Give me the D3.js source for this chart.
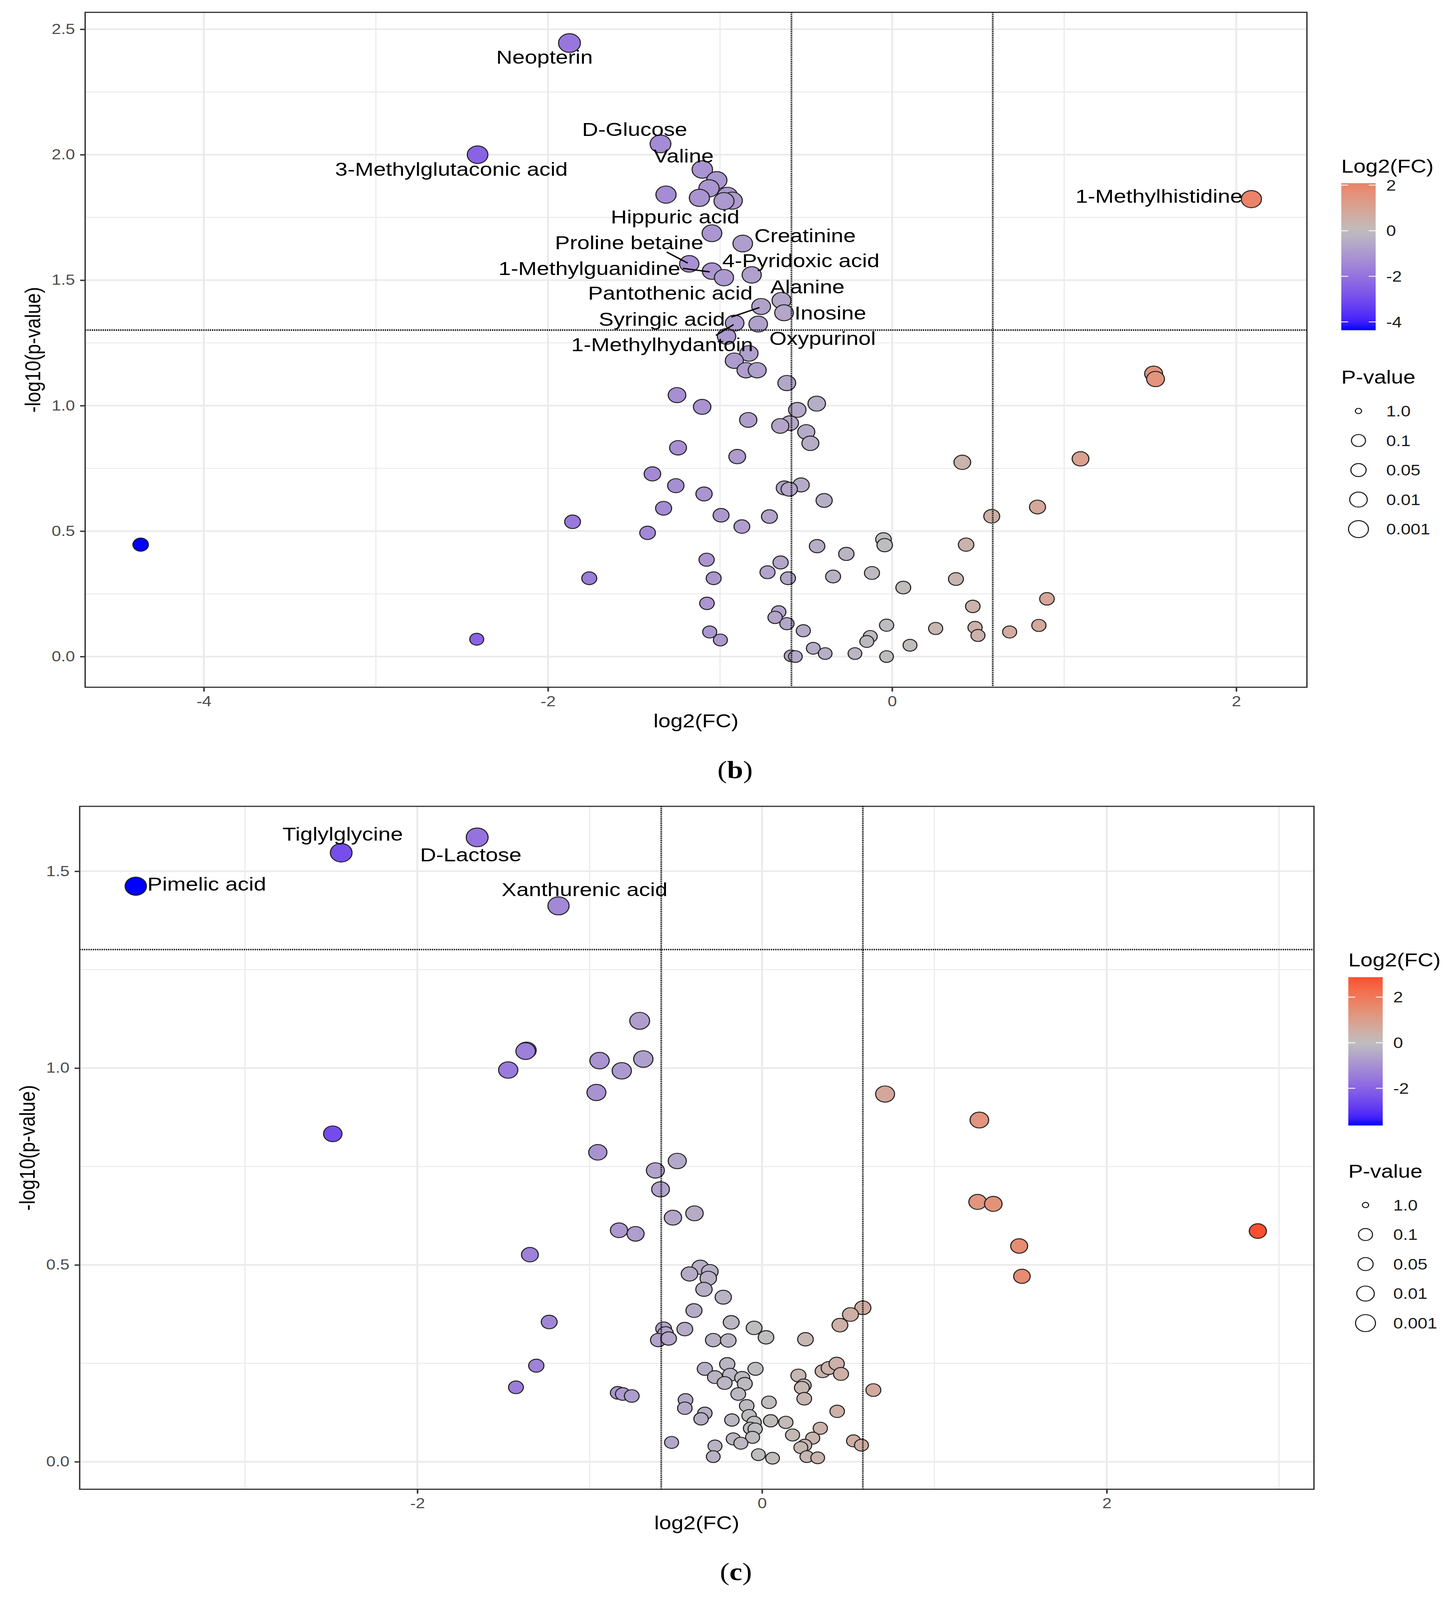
<!DOCTYPE html>
<html>
<head>
<meta charset="utf-8">
<script src="https://cdn.jsdelivr.net/npm/d3@7"></script>
<style>
  html, body { margin: 0; padding: 0; background: #fff; overflow: hidden; }
  svg { display: block; width: 100vw; height: 100vh; }
  text { font-family: "Liberation Sans", Arial, sans-serif; }
</style>
</head>
<body>
<svg id="fig" viewBox="0 0 3720 4796" preserveAspectRatio="none"></svg>
<script>
// ---- panel (b) data: log2 fold change and -log10(p) per metabolite
var fcB = [
  -1.875, -2.409, -1.346, -1.103, -1.019, -1.064, -1.314, -1.120, -0.957, -0.929,
  -0.977, 2.088, -1.047, -0.868, -1.179, -1.047, -0.977, -0.816, -0.643, -0.761,
  -0.628, -0.915, -0.778, -0.962,
  -0.832, -0.917, -0.849, -0.784, -0.612, -1.250, -0.438, -1.104, -0.551, -0.836,
  -0.594, -0.650, -0.499, -0.475, -1.244, -0.900, 0.408, 1.095, -1.393, -1.257,
  -1.093, -0.529, -0.626, -0.598, -0.395, -1.328, -0.994, -0.713, -0.873, -1.421,
  0.579, 0.845, 1.520, 1.531, -0.050, -0.043, -0.436, -0.266, 0.430, -1.078,
  -0.648, -0.724, -0.605, -1.037, -0.343, -0.117, 0.371, 0.065, 0.900, 0.469,
  -1.076, -0.659, -0.680, -0.611, -0.516, -0.032, -1.060, -0.998, 0.253, 0.482,
  0.499, 0.683, 0.853, -0.127, -0.147, 0.104, -0.458, -0.389, -0.216, -0.032,
  -0.587, -0.562, -4.367, -2.414, -1.857, -1.760
];
var logpB = [
  2.445, 2.000, 2.043, 1.941, 1.898, 1.866, 1.841, 1.828, 1.836, 1.817,
  1.815, 1.823, 1.687, 1.646, 1.565, 1.536, 1.510, 1.521, 1.419, 1.395,
  1.370, 1.329, 1.325, 1.276,
  1.208, 1.179, 1.141, 1.141, 1.090, 1.042, 1.008, 0.995, 0.983, 0.943,
  0.930, 0.919, 0.895, 0.850, 0.832, 0.797, 0.774, 0.788, 0.728, 0.681,
  0.648, 0.684, 0.672, 0.667, 0.622, 0.591, 0.563, 0.558, 0.518, 0.493,
  0.559, 0.596, 1.127, 1.106, 0.467, 0.444, 0.440, 0.409, 0.446, 0.386,
  0.375, 0.336, 0.312, 0.312, 0.319, 0.333, 0.309, 0.275, 0.230, 0.200,
  0.212, 0.178, 0.156, 0.131, 0.103, 0.125, 0.098, 0.066, 0.112, 0.116,
  0.084, 0.098, 0.124, 0.080, 0.060, 0.045, 0.033, 0.012, 0.012, 0.000,
  0.003, 0.000, 0.446, 0.069, 0.537, 0.312
];
var labelTextB = ["Neopterin", "D-Glucose", "3-Methylglutaconic acid", "Valine",
  "1-Methylhistidine", "Hippuric acid", "Creatinine", "Proline betaine",
  "4-Pyridoxic acid", "1-Methylguanidine", "Alanine", "Pantothenic acid",
  "Inosine", "Syringic acid", "Oxypurinol", "1-Methylhydantoin"];
// where the repelled labels sit, in data units (centre, baseline)
var labelFcB = [-2.020, -1.496, -2.561, -1.212, 1.551, -1.261, -0.506, -1.528,
  -0.530, -1.759, -0.492, -1.289, -0.359, -1.338, -0.404, -1.336];
var labelLogpB = [2.363, 2.075, 1.916, 1.969, 1.808, 1.726, 1.652, 1.623,
  1.551, 1.521, 1.447, 1.422, 1.343, 1.318, 1.242, 1.217];
var segmentsB = [
  [-1.310, 1.612, -1.188, 1.568],
  [-1.216, 1.547, -1.060, 1.533],
  [-0.934, 1.353, -0.771, 1.391],
  [-1.024, 1.280, -0.921, 1.323]
];

// ---- panel (c) data
var fcC = [
  -3.634, -2.442, -1.653, -1.181, -2.491, -0.710, -1.367, -1.372, -1.473, -0.943,
  -0.689, -0.814, -0.961, 0.714, -0.953, -0.492, -0.619, -0.589, -0.392, -0.517,
  -0.830, -0.734, -1.347, -1.235, -1.310, -1.428, 1.261, 1.251, 1.342, 1.492,
  1.508, 2.877,
  -0.358, -0.421, -0.303, -0.312, -0.337, -0.225, -0.395, -0.179, 0.585, 0.513,
  0.452, -0.571, -0.560, -0.448, -0.046, -0.602, -0.542, -0.283, -0.196, 0.023,
  0.252, -0.202, -0.332, -0.038, -0.273, -0.185, -0.115, -0.217, -0.100, -0.138,
  0.211, 0.242, 0.231, 0.245, 0.352, 0.387, 0.433, 0.458, 0.646, -0.837,
  -0.808, -0.756, -0.444, -0.448, -0.332, -0.354, -0.089, 0.040, 0.436, -0.175,
  -0.075, -0.046, 0.050, 0.138, -0.067, -0.040, -0.055, -0.167, -0.123, 0.177,
  0.338, 0.294, 0.248, 0.225, 0.260, 0.323, 0.531, 0.577, -0.525, -0.273,
  -0.283, -0.021, 0.061
];
var logpC = [
  1.462, 1.547, 1.586, 1.412, 0.833, 1.120, 1.045, 1.043, 0.995, 1.019,
  1.023, 0.993, 0.938, 0.934, 0.786, 0.764, 0.740, 0.692, 0.631, 0.620,
  0.588, 0.579, 0.526, 0.355, 0.244, 0.189, 0.868, 0.660, 0.655, 0.548,
  0.471, 0.586,
  0.494, 0.477, 0.483, 0.466, 0.438, 0.418, 0.384, 0.354, 0.391, 0.374,
  0.347, 0.338, 0.326, 0.337, 0.340, 0.309, 0.313, 0.309, 0.308, 0.316,
  0.311, 0.248, 0.236, 0.236, 0.215, 0.221, 0.213, 0.200, 0.198, 0.172,
  0.219, 0.194, 0.188, 0.160, 0.230, 0.238, 0.249, 0.223, 0.182, 0.175,
  0.172, 0.167, 0.157, 0.136, 0.123, 0.109, 0.142, 0.151, 0.128, 0.106,
  0.117, 0.100, 0.104, 0.100, 0.085, 0.083, 0.062, 0.058, 0.047, 0.068,
  0.085, 0.060, 0.042, 0.036, 0.013, 0.010, 0.053, 0.042, 0.049, 0.040,
  0.013, 0.018, 0.009
];
var labelTextC = ["Tiglylglycine", "D-Lactose", "Pimelic acid", "Xanthurenic acid"];
var labelFcC = [-2.433, -1.690, -3.222, -1.030];
var labelLogpC = [1.578, 1.525, 1.451, 1.437];
var segmentsC = [];

// ---- ticks and legend text
var xTicksB = [-4, -2, 0, 2];
var yTicksB = [0, 0.5, 1, 1.5, 2, 2.5];
var xTicksC = [-2, 0, 2];
var yTicksC = [0, 0.5, 1, 1.5];
var colorTicksB = [2, 0, -2, -4];
var colorTicksC = [2, 0, -2];
var pLegendLabels = ["1.0", "0.1", "0.05", "0.01", "0.001"];

var fcCut = Math.log2(1.5);
var pCut = -Math.log10(0.05);

var svg = d3.select("#fig");
svg.append("rect").attr("width", 3720).attr("height", 4796).attr("fill", "#fff");
var defs = svg.append("defs");

function minorTicks(major, domain) {
  var step = major[1] - major[0];
  var out = [];
  for (let v = major[0] - step / 2; v <= domain[1]; v += step) {
    if (v >= domain[0]) out.push(v);
  }
  return out;
}

function drawPanel(o) {
  var g = svg.append("g");
  var xExt = d3.extent(o.fc), yExt = d3.extent(o.logp);
  var xPad = (xExt[1] - xExt[0]) * 0.05, yPad = (yExt[1] - yExt[0]) * 0.05;
  var x = d3.scaleLinear().domain([xExt[0] - xPad, xExt[1] + xPad]).range([o.left, o.right]);
  var y = d3.scaleLinear().domain([yExt[0] - yPad, yExt[1] + yPad]).range([o.bottom, o.top]);

  var m = d3.max(o.fc, function(d) { return Math.abs(d); });
  var color = d3.scaleLinear()
    .domain([-m, 0, m])
    .range(["#0000FF", "#BEBEBE", "#FF0000"])
    .interpolate(d3.interpolateLab);
  var size = d3.scaleRadial().domain([0, yExt[1]]).range([17.5, 28]);

  // grid
  var grid = g.append("g");
  minorTicks(o.xTicks, x.domain()).forEach(function(v) {
    grid.append("line").attr("x1", x(v)).attr("x2", x(v)).attr("y1", o.top).attr("y2", o.bottom)
      .attr("stroke", "#EBEBEB").attr("stroke-width", 3);
  });
  minorTicks(o.yTicks, y.domain()).forEach(function(v) {
    grid.append("line").attr("y1", y(v)).attr("y2", y(v)).attr("x1", o.left).attr("x2", o.right)
      .attr("stroke", "#EBEBEB").attr("stroke-width", 3);
  });
  o.xTicks.forEach(function(v) {
    grid.append("line").attr("x1", x(v)).attr("x2", x(v)).attr("y1", o.top).attr("y2", o.bottom)
      .attr("stroke", "#EBEBEB").attr("stroke-width", 5);
  });
  o.yTicks.forEach(function(v) {
    grid.append("line").attr("y1", y(v)).attr("y2", y(v)).attr("x1", o.left).attr("x2", o.right)
      .attr("stroke", "#EBEBEB").attr("stroke-width", 5);
  });

  // points
  var pts = d3.range(o.fc.length).map(function(i) { return {fc: o.fc[i], lp: o.logp[i]}; });
  g.append("g").selectAll("circle")
    .data(pts)
    .enter().append("circle")
    .attr("cx", function(d) { return x(d.fc); })
    .attr("cy", function(d) { return y(d.lp); })
    .attr("r", function(d) { return size(d.lp); })
    .attr("fill", function(d) { return color(d.fc); })
    .attr("stroke", "#222")
    .attr("stroke-width", 2.8);

  // threshold lines
  var th = g.append("g").attr("stroke", "#111").attr("stroke-width", 4.5)
    .attr("stroke-dasharray", "3.2,2.4");
  [-fcCut, fcCut].forEach(function(v) {
    th.append("line").attr("x1", x(v)).attr("x2", x(v)).attr("y1", o.top).attr("y2", o.bottom);
  });
  th.append("line").attr("x1", o.left).attr("x2", o.right).attr("y1", y(pCut)).attr("y2", y(pCut));

  // label segments and labels
  o.segments.forEach(function(s) {
    g.append("line").attr("x1", x(s[0])).attr("y1", y(s[1]))
      .attr("x2", x(s[2])).attr("y2", y(s[3]))
      .attr("stroke", "#000").attr("stroke-width", 4);
  });
  g.append("g").selectAll("text")
    .data(o.labelText)
    .enter().append("text")
    .attr("x", function(d, i) { return x(o.labelFc[i]); })
    .attr("y", function(d, i) { return y(o.labelLogp[i]); })
    .attr("text-anchor", "middle")
    .attr("font-size", 57)
    .attr("fill", "#000")
    .text(function(d) { return d; });

  // panel border
  g.append("rect").attr("x", o.left).attr("y", o.top)
    .attr("width", o.right - o.left).attr("height", o.bottom - o.top)
    .attr("fill", "none").attr("stroke", "#333").attr("stroke-width", 3.5);

  // axes
  var xAxis = g.append("g").attr("transform", "translate(0," + o.bottom + ")")
    .call(d3.axisBottom(x).tickValues(o.xTicks).tickFormat(function(d) { return String(d); })
      .tickSize(13).tickPadding(13));
  var yAxis = g.append("g").attr("transform", "translate(" + o.left + ",0)")
    .call(d3.axisLeft(y).tickValues(o.yTicks).tickFormat(d3.format(".1f"))
      .tickSize(13).tickPadding(13));
  [xAxis, yAxis].forEach(function(a) {
    a.select(".domain").remove();
    a.selectAll(".tick line").attr("stroke", "#333").attr("stroke-width", 4);
    a.selectAll(".tick text").attr("fill", "#4D4D4D").attr("font-size", 43)
      .attr("font-family", "Liberation Sans, Arial, sans-serif");
  });

  g.append("text")
    .attr("x", (o.left + o.right) / 2).attr("y", o.bottom + 120)
    .attr("text-anchor", "middle").attr("font-size", 56).attr("fill", "#000")
    .text("log2(FC)");
  g.append("text")
    .attr("transform", "translate(" + (o.left - 115) + "," + ((o.top + o.bottom) / 2) + ") rotate(-90)")
    .attr("text-anchor", "middle").attr("font-size", 56).attr("fill", "#000")
    .text("-log10(p-value)");

  // legend: colour bar
  var lx = o.right + 88;
  g.append("text").attr("x", lx).attr("y", o.top + 480)
    .attr("font-size", 56).attr("fill", "#000").text("Log2(FC)");
  var barTop = o.top + 512, barW = 88, barH = (xExt[1] - xExt[0]) * 68.3;
  var bar = d3.scaleLinear().domain(xExt).range([barTop + barH, barTop]);
  var grad = defs.append("linearGradient").attr("id", o.id + "-grad")
    .attr("x1", 0).attr("y1", 1).attr("x2", 0).attr("y2", 0);
  d3.range(0, 1.0001, 0.05).forEach(function(t) {
    var v = xExt[0] + t * (xExt[1] - xExt[0]);
    grad.append("stop").attr("offset", t).attr("stop-color", color(v));
  });
  g.append("rect").attr("x", lx).attr("y", barTop).attr("width", barW).attr("height", barH)
    .attr("fill", "url(#" + o.id + "-grad)");
  o.colorTicks.forEach(function(v) {
    g.append("line").attr("x1", lx).attr("x2", lx + barW / 5)
      .attr("y1", bar(v)).attr("y2", bar(v)).attr("stroke", "#fff").attr("stroke-width", 2.5);
    g.append("line").attr("x1", lx + barW - barW / 5).attr("x2", lx + barW)
      .attr("y1", bar(v)).attr("y2", bar(v)).attr("stroke", "#fff").attr("stroke-width", 2.5);
    g.append("text").attr("x", lx + barW + 27).attr("y", bar(v)).attr("dy", "0.36em")
      .attr("font-size", 45).attr("fill", "#1a1a1a").text(String(v));
  });

  // legend: p-value sizes
  g.append("text").attr("x", lx).attr("y", o.top + 1113)
    .attr("font-size", 56).attr("fill", "#000").text("P-value");
  var keyR = [8, 18, 19.5, 22.5, 25.5];
  pLegendLabels.forEach(function(lab, i) {
    var cy = o.top + 1195 + i * 88.5;
    g.append("circle").attr("cx", lx + 44).attr("cy", cy).attr("r", keyR[i])
      .attr("fill", "none").attr("stroke", "#1a1a1a").attr("stroke-width", 2.8);
    g.append("text").attr("x", lx + 115).attr("y", cy).attr("dy", "0.36em")
      .attr("font-size", 45).attr("fill", "#1a1a1a").text(lab);
  });

  // caption
  var cap = g.append("text").attr("x", (o.left + o.right) / 2 + 100).attr("y", o.bottom + 272)
    .attr("text-anchor", "middle").attr("font-size", 74).attr("fill", "#000")
    .style("font-family", "Liberation Serif, Times New Roman, serif");
  cap.append("tspan").text("(");
  cap.append("tspan").attr("font-weight", "bold").text(o.caption);
  cap.append("tspan").text(")");
}

drawPanel({
  id: "b", left: 218, right: 3346, top: 37, bottom: 2060,
  fc: fcB, logp: logpB, xTicks: xTicksB, yTicks: yTicksB, colorTicks: colorTicksB,
  labelText: labelTextB, labelFc: labelFcB, labelLogp: labelLogpB, segments: segmentsB,
  caption: "b"
});
drawPanel({
  id: "c", left: 204, right: 3364, top: 2417, bottom: 4464,
  fc: fcC, logp: logpC, xTicks: xTicksC, yTicks: yTicksC, colorTicks: colorTicksC,
  labelText: labelTextC, labelFc: labelFcC, labelLogp: labelLogpC, segments: segmentsC,
  caption: "c"
});
</script>
</body>
</html>
